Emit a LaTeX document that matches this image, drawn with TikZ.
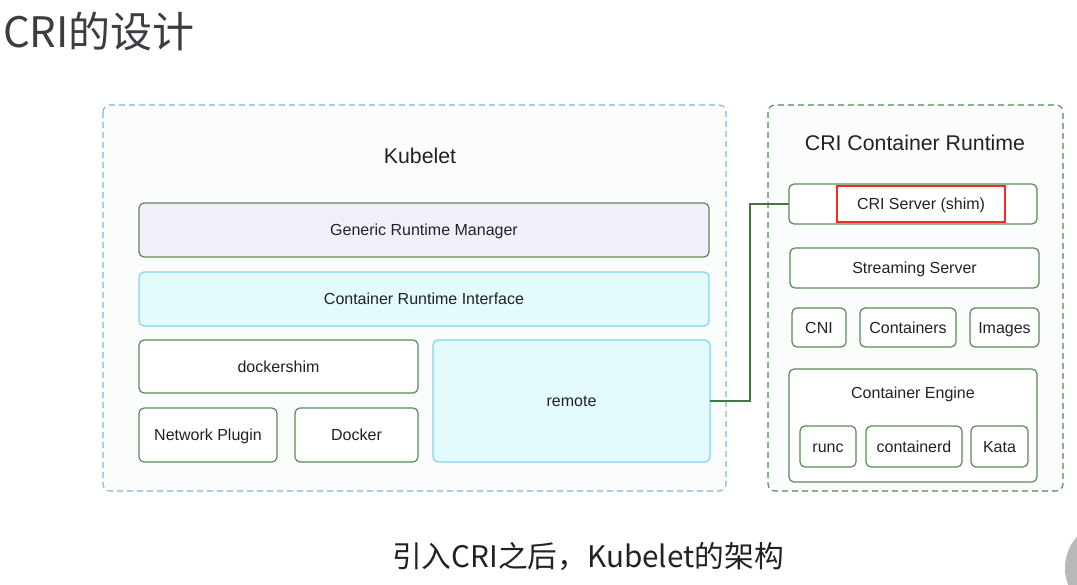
\documentclass[tikz,border=0pt]{standalone}
\usepackage{fontspec}
\setmainfont{Liberation Sans}
\newfontfamily\cjk{Noto Sans CJK SC}
\definecolor{txt}{HTML}{222222}
\definecolor{ttl}{HTML}{3A3D42}
\definecolor{gborder}{HTML}{588A57}
\definecolor{gline}{HTML}{3F7A3F}
\definecolor{bdash}{HTML}{7DB6DE}
\definecolor{gdash}{HTML}{4E8A4E}
\definecolor{cyanb}{HTML}{7FD6EE}
\definecolor{cyanf}{HTML}{E3FBFD}
\definecolor{lavf}{HTML}{F3EEFC}
\definecolor{panelf}{HTML}{FBFDFC}
\definecolor{redhl}{HTML}{F02A22}
\begin{document}
\begin{tikzpicture}[x=1pt,y=-1pt,
  smallcap/.style={text height=11.5pt,text depth=0pt},
  gbox/.style={draw=gborder,line width=1.2pt,rounded corners=5pt,fill=white,text=txt,font=\fontsize{16}{19}\selectfont,smallcap},
  cbox/.style={draw=cyanb,line width=1.2pt,rounded corners=5pt,fill=cyanf,text=txt,font=\fontsize{16}{19}\selectfont,smallcap},
  panel/.style={dashed,dash pattern=on 6pt off 4pt,line width=1.1pt,rounded corners=7pt,fill=panelf},
  lbl/.style={text=txt,font=\fontsize{16}{19}\selectfont,smallcap},
  head/.style={text=txt,font=\fontsize{21.3}{25}\selectfont,text height=15.3pt,text depth=0pt}]
\useasboundingbox (0,0) rectangle (1077,585);
\fill[white] (0,0) rectangle (1077,585);
% title
\node[anchor=west,text=ttl,font=\cjk\fontsize{42}{46}\selectfont,inner sep=0pt] (title) at (3,32) {CRI的设计};
% left panel
\draw[panel,draw=bdash] (103,105) rectangle (726,491);
\node[head] (kubelet) at (420,156) {Kubelet};
\draw[gbox,fill=lavf] (139,203) rectangle node (grm) {Generic Runtime Manager} (709,257);
\draw[cbox] (139,272) rectangle node (cri_if) {Container Runtime Interface} (709,326);
\draw[gbox] (139,340) rectangle node (dshim) {dockershim} (418,393);
\draw[gbox] (139,408) rectangle node (netp) {Network Plugin} (277,462);
\draw[gbox] (295,408) rectangle node (docker) {Docker} (418,462);
\draw[cbox] (433,340) rectangle node (remotelbl) {remote} (710,462);
\coordinate (remote) at (710,401);
% right panel
\draw[panel,draw=gdash] (768,105) rectangle (1063,491);
\node[head] (crirt) at (915,143) {CRI Container Runtime};
\draw[gbox] (789,184) rectangle (1037,224);
\coordinate (crisrv) at (789,204);
\draw[draw=redhl,line width=2.5pt] (837,186) rectangle node[lbl] (shim) {CRI Server (shim)} (1005,222);
\draw[gbox] (790,248) rectangle node (stream) {Streaming Server} (1039,288);
\draw[gbox] (792,308) rectangle node (cni) {CNI} (846,347);
\draw[gbox] (860,308) rectangle node (ctrs) {Containers} (956,347);
\draw[gbox] (970,308) rectangle node (imgs) {Images} (1039,347);
\draw[gbox] (789,369) rectangle (1037,482);
\node[lbl] (engine) at (913,393) {Container Engine};
\draw[gbox] (800,426) rectangle node (runc) {runc} (856,467);
\draw[gbox] (866,426) rectangle node (ctrd) {containerd} (962,467);
\draw[gbox] (971,426) rectangle node (kata) {Kata} (1028,467);
% connector
\draw[gline,line width=1.3pt] (remote) -- ++(40,0) |- (crisrv);
% caption
\node[text=txt,font=\cjk\fontsize{29.7}{33}\selectfont] (caption) at (588,557) {引入CRI之后，Kubelet的架构};
% avatar fragment
\begin{scope}
\clip (1060,520) rectangle (1077,585);
\fill[gray!55] (1112,568) circle (47);
\end{scope}
\end{tikzpicture}
\end{document}
